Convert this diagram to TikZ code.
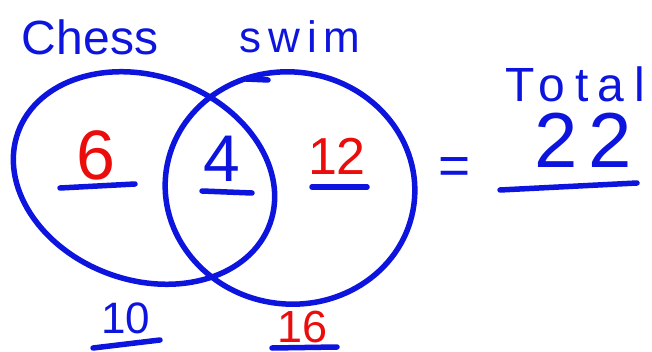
\documentclass[tikz,border=0pt]{standalone}
\usepackage{fontspec}
\setmainfont{Liberation Sans}
\definecolor{penblue}{RGB}{12,20,222}
\definecolor{penred}{RGB}{235,12,12}
\begin{document}
\begin{tikzpicture}[x=1pt,y=-1pt,
  pen/.style={draw=penblue,line width=5.5pt,line cap=round},
  bluetxt/.style={text=penblue,inner sep=0pt,anchor=base},
  redtxt/.style={text=penred,inner sep=0pt,anchor=base},
  fs/.style={font=\fontsize{#1}{#1}\selectfont}]
\useasboundingbox (0,0) rectangle (652,352);
\fill[white] (0,0) rectangle (652,352);
% circles
\draw[pen, rotate around={-20:(144,178)}] (144,178) ellipse [x radius=134, y radius=102];
\draw[pen, rotate around={-8:(290,188)}] (290,188) ellipse [x radius=125, y radius=116];
\draw[pen] (246,79) -- (268,80);
% labels
\node[bluetxt, fs=48] (chess) at (90,55) {Chess};
\node[bluetxt, font=\fontsize{44}{44}\selectfont\addfontfeatures{LetterSpace=16}] (swim) at (300,53) {swim};
\node[redtxt, fs=70] (six) at (96,180) {6};
\node[bluetxt, fs=66] (four) at (222,182) {4};
\node[redtxt, fs=52] (twelve) at (337,175) {12};
\node[bluetxt, fs=44] (ten) at (126,333) {10};
\node[redtxt, fs=45] (sixteen) at (303,342) {16};
\node[text=penblue, inner sep=0pt, fs=55] (eq) at (455,171) {=};
\node[bluetxt, font=\fontsize{48}{48}\selectfont\addfontfeatures{LetterSpace=20}] (total) at (575,102) {Total};
\node[bluetxt, font=\fontsize{78}{78}\selectfont\addfontfeatures{LetterSpace=14}] (tt) at (583,168) {22};
% underlines
\draw[pen] (60,188) -- (135,184);
\draw[pen] (202,191) -- (252,193);
\draw[pen] (312,187) -- (367,187);
\draw[pen] (93,348) -- (160,340);
\draw[pen] (272,348) -- (337,347);
\draw[pen] (500,190) -- (637,183);
\end{tikzpicture}
\end{document}
